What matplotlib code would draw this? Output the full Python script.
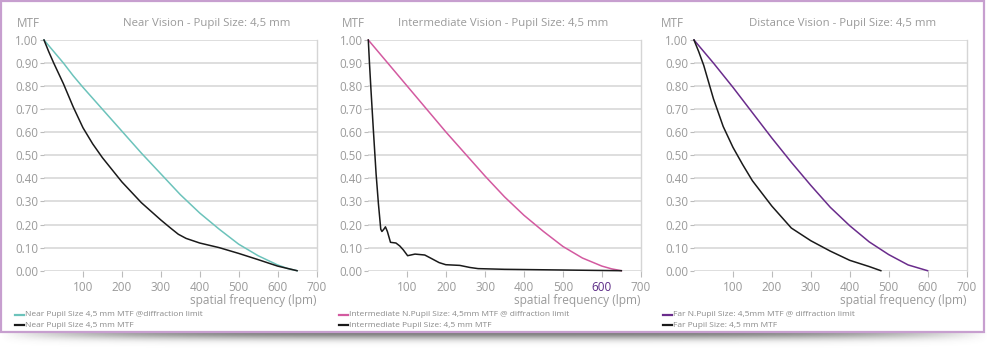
import numpy as np
import matplotlib
matplotlib.use("Agg")
import matplotlib.pyplot as plt
from matplotlib.patches import Rectangle
from matplotlib.lines import Line2D

plt.rcParams['font.family'] = ['Open Sans', 'DejaVu Sans']

# Near vision
near_x_dl = [0, 25, 50, 75, 100, 150, 200, 250, 300, 350, 400, 450, 500, 550, 600, 625, 650]
near_y_dl = [1.0, 0.95, 0.90, 0.845, 0.795, 0.70, 0.605, 0.51, 0.42, 0.33, 0.25, 0.18, 0.115, 0.065, 0.025, 0.01, 0.0]
near_x = [0, 12, 25, 50, 75, 100, 125, 150, 200, 250, 300, 325, 345, 365, 400, 450, 500, 550, 600, 650]
near_y = [1.0, 0.95, 0.90, 0.81, 0.71, 0.62, 0.55, 0.49, 0.385, 0.295, 0.22, 0.185, 0.158, 0.14, 0.12, 0.10, 0.075, 0.048, 0.02, 0.0]

# Intermediate vision
int_x_dl = [0, 50, 100, 150, 200, 250, 300, 350, 400, 450, 500, 550, 600, 625, 650]
int_y_dl = [1.0, 0.90, 0.80, 0.70, 0.60, 0.505, 0.41, 0.32, 0.24, 0.17, 0.105, 0.055, 0.02, 0.008, 0.0]
int_x = [0, 3, 7, 13, 20, 26, 32, 35, 40, 44, 49, 57, 71, 81, 90, 101, 120, 145, 162, 182, 199, 235, 261, 282, 350, 450, 550, 650]
int_y = [1.0, 0.90, 0.78, 0.61, 0.42, 0.29, 0.18, 0.17, 0.18, 0.19, 0.17, 0.123, 0.12, 0.107, 0.09, 0.065, 0.072, 0.068, 0.053, 0.035, 0.026, 0.023, 0.014, 0.009, 0.006, 0.004, 0.002, 0.0]

# Distance vision
far_x_dl = [0, 50, 100, 150, 200, 250, 300, 350, 400, 450, 500, 550, 600]
far_y_dl = [1.0, 0.90, 0.795, 0.685, 0.575, 0.47, 0.37, 0.275, 0.195, 0.125, 0.07, 0.025, 0.0]
far_x = [0, 12, 25, 50, 75, 100, 125, 150, 200, 250, 300, 350, 400, 450, 480]
far_y = [1.0, 0.95, 0.89, 0.745, 0.625, 0.535, 0.46, 0.39, 0.28, 0.185, 0.13, 0.085, 0.045, 0.018, 0.0]

titles = ['Near Vision - Pupil Size: 4,5 mm',
          'Intermediate Vision - Pupil Size: 4,5 mm',
          'Distance Vision - Pupil Size: 4,5 mm']
legend_dl = ['Near Pupil Size 4,5 mm MTF @diffraction limit',
             'Intermediate N.Pupil Size: 4,5mm MTF @ diffraction limit',
             'Far N.Pupil Size: 4,5mm MTF @ diffraction limit']
legend_mtf = ['Near Pupil Size 4,5 mm MTF',
              'Intermediate Pupil Size: 4,5 mm MTF',
              'Far Pupil Size: 4,5 mm MTF']
colors = ['#6cc3bb', '#d35aa0', '#6a2c8c']
x_ticks = [100, 200, 300, 400, 500, 600, 700]
y_ticks = [0.0, 0.1, 0.2, 0.3, 0.4, 0.5, 0.6, 0.7, 0.8, 0.9, 1.0]

data = [(near_x_dl, near_y_dl, near_x, near_y),
        (int_x_dl, int_y_dl, int_x, int_y),
        (far_x_dl, far_y_dl, far_x, far_y)]

W, H = 988, 354
fig = plt.figure(figsize=(W / 100, H / 100), dpi=100)

# shadow below the frame
sh = fig.add_axes([0.0, 1 - 352 / H, 1.0, 20 / H])
sh.set_axis_off()
xx = np.linspace(-1, 1, 500)
yy = np.linspace(0, 1, 40)
prof_x = np.clip(1 - np.abs(xx) ** 4, 0, 1)
prof_y = np.exp(-(yy / 0.35) ** 2)
img = np.zeros((40, 500, 4))
img[..., :3] = 0.3
img[..., 3] = np.outer(prof_y, prof_x) * 0.75
sh.imshow(img, aspect='auto', extent=[0, 1, 0, 1], origin='upper')
sh.set_xlim(0, 1)
sh.set_ylim(0, 1)

# frame
fig.patches.append(Rectangle((1 / W, 1 - 332 / H), 983 / W, 331 / H,
                             transform=fig.transFigure, fill=False,
                             edgecolor='#c79fcf', linewidth=1.6))

lefts = [44, 368.3, 694]
title_x = [0.29, 0.109, 0.202]
mtf_x = [-0.099, -0.098, -0.12]
leg_x = [15, 339, 663]
grey = '#9a9a9a'

for i in range(3):
    ax = fig.add_axes([lefts[i] / W, 1 - 270.7 / H, 272.5 / W, 230.7 / H])
    ax.patch.set_alpha(0)
    xd, yd, xm, ym = data[i]
    ax.plot(xd, yd, color=colors[i], lw=1.1, clip_on=False, zorder=3)
    ax.plot(xm, ym, color='#1a1a1a', lw=1.1, clip_on=False, zorder=4)
    ax.set_xlim(0, 700)
    ax.set_ylim(0, 1)
    ax.set_xticks(x_ticks)
    ax.set_yticks(y_ticks)
    ax.set_yticklabels(['%.2f' % v for v in y_ticks])
    ax.grid(axis='y', color='#d5d5d5', lw=1.1)
    ax.set_axisbelow(True)
    for s in ['top', 'left', 'bottom']:
        ax.spines[s].set_visible(False)
    ax.spines['right'].set_color('#d5d5d5')
    ax.spines['right'].set_linewidth(1.0)
    ax.tick_params(axis='y', length=3, width=0.8, color='#bbbbbb', pad=1,
                   labelsize=8.3, labelcolor=grey)
    ax.tick_params(axis='x', length=4, width=0.8, color='#bbbbbb', pad=3.5,
                   labelsize=8.5, labelcolor=grey)
    if i == 1:
        ax.get_xticklabels()[5].set_color('#5b2a86')
    ax.text(title_x[i], 1.07, titles[i], transform=ax.transAxes, fontsize=8.2,
            color=grey, ha='left', va='center')
    ax.text(mtf_x[i], 1.07, 'MTF', transform=ax.transAxes, fontsize=8.4,
            color=grey, ha='left', va='center')
    ax.text(1.0, -0.128, 'spatial frequency (lpm)', transform=ax.transAxes,
            fontsize=8.6, color=grey, ha='right', va='center')

    for k, (lab, c) in enumerate([(legend_dl[i], colors[i]), (legend_mtf[i], '#1a1a1a')]):
        yy_px = 314.7 + k * 10.5
        fig.add_artist(Line2D([leg_x[i] / W, (leg_x[i] + 9) / W],
                              [1 - yy_px / H, 1 - yy_px / H],
                              transform=fig.transFigure, color=c, lw=1.6))
        fig.text((leg_x[i] + 10) / W, 1 - yy_px / H, lab, fontsize=6.0,
                 color='#8a8a8a', ha='left', va='center')

fig.savefig('out.png', dpi=100)
